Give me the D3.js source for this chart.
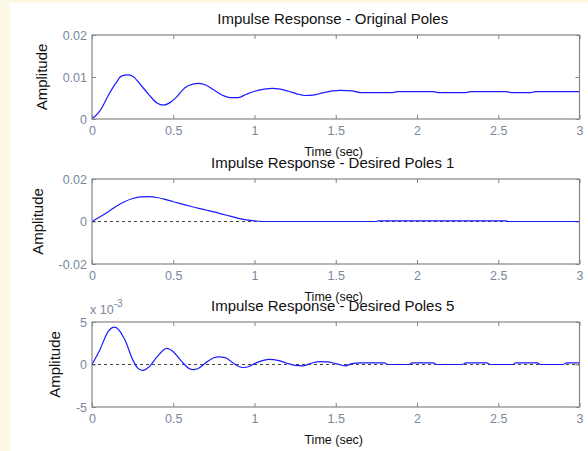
<!DOCTYPE html>
<html>
<head>
<meta charset="utf-8">
<script src="https://cdn.jsdelivr.net/npm/d3@7"></script>
<style>
  body { margin: 0; background: #fdf8e6; }
  text { font-family: "Liberation Sans", Arial, sans-serif; }
</style>
</head>
<body>
<div id="chart"></div>
<script>
// time samples and amplitudes
const timeOriginal = [0, 0.05, 0.1, 0.15, 0.18, 0.22, 0.25, 0.3, 0.35, 0.4, 0.44, 0.48, 0.52, 0.57, 0.62, 0.66, 0.7, 0.75, 0.8, 0.85, 0.9, 0.95, 1.0, 1.06, 1.11, 1.16, 1.21, 1.26, 1.31, 1.36, 1.42, 1.48, 1.53, 1.6, 1.65, 1.85, 1.88, 2.1, 2.13, 2.3, 2.33, 2.55, 2.58, 2.7, 2.73, 3];
const ampOriginal = [0, 0.0020, 0.0056, 0.0087, 0.0102, 0.0105, 0.0102, 0.0081, 0.0058, 0.0038, 0.0033, 0.0039, 0.0052, 0.0074, 0.0083, 0.0085, 0.0081, 0.0069, 0.0057, 0.0051, 0.0051, 0.0059, 0.0066, 0.0071, 0.0073, 0.0071, 0.0066, 0.0060, 0.0056, 0.0057, 0.0062, 0.0067, 0.0068, 0.0067, 0.0063, 0.0063, 0.0065, 0.0065, 0.0063, 0.0063, 0.0065, 0.0065, 0.0063, 0.0063, 0.0065, 0.0065];

const timeDesired1 = [0, 0.05, 0.1, 0.15, 0.2, 0.25, 0.3, 0.35, 0.4, 0.45, 0.5, 0.55, 0.6, 0.65, 0.7, 0.75, 0.8, 0.85, 0.9, 0.95, 1.0, 1.05, 1.75, 1.76, 2.55, 2.56, 3];
const ampDesired1 = [0, 0.0022, 0.0046, 0.0072, 0.0093, 0.0108, 0.0116, 0.0117, 0.0113, 0.0104, 0.0093, 0.0083, 0.0073, 0.0063, 0.0054, 0.0045, 0.0035, 0.0025, 0.0015, 0.0008, 0.0003, 0, 0, 0.0003, 0.0003, 0, 0];

const timeDesired5 = [0, 0.05, 0.1, 0.14, 0.2, 0.25, 0.28, 0.31, 0.35, 0.4, 0.46, 0.5, 0.55, 0.6, 0.62, 0.65, 0.7, 0.75, 0.78, 0.82, 0.86, 0.9, 0.93, 0.97, 1.0, 1.05, 1.09, 1.15, 1.2, 1.25, 1.3, 1.35, 1.4, 1.45, 1.5, 1.56, 1.6, 1.65, 1.8, 1.82, 1.95, 1.97, 2.1, 2.12, 2.28, 2.3, 2.43, 2.45, 2.59, 2.61, 2.74, 2.76, 2.9, 2.92, 3];
const ampDesired5 = [0, 0.0018, 0.0039, 0.0044, 0.0030, 0.0006, -0.0004, -0.0007, -0.0003, 0.0009, 0.0019, 0.0015, 0.0004, -0.0005, -0.0006, -0.0005, 0.0002, 0.0008, 0.0009, 0.0008, 0.0003, -0.0002, -0.00035, -0.0002, 0.0001, 0.00045, 0.0006, 0.00045, 0.00015, -0.0001, -0.00015, 0.00015, 0.00035, 0.0003, 0.0001, -0.00015, 0.0001, 0.0002, 0.0002, 0, 0, 0.0002, 0.0002, 0, 0, 0.0002, 0.0002, 0, 0, 0.0002, 0.0002, 0, 0, 0.0002, 0.0002];

const titles = ["Impulse Response - Original Poles", "Impulse Response - Desired Poles 1", "Impulse Response - Desired Poles 5"];
const xTicks = [0, 0.5, 1, 1.5, 2, 2.5, 3];
const xTickLabels = ["0", "0.5", "1", "1.5", "2", "2.5", "3"];
const yTicks1 = [0, 0.01, 0.02];
const yTickLabels1 = ["0", "0.01", "0.02"];
const yTicks2 = [-0.02, 0, 0.02];
const yTickLabels2 = ["-0.02", "0", "0.02"];
const yTicks3 = [-0.005, 0, 0.005];
const yTickLabels3 = ["-5", "0", "5"];

const W = 588, H = 451;
const svg = d3.select("#chart").append("svg")
    .attr("width", W).attr("height", H);

svg.append("rect").attr("width", W).attr("height", H).attr("fill", "#fdf8e6");
svg.append("rect").attr("x", 10).attr("y", 3).attr("width", W - 10).attr("height", H - 3).attr("fill", "#ffffff");

const panels = [
  {top: 35, bottom: 119, t: timeOriginal, v: ampOriginal, yTicks: yTicks1, yLabels: yTickLabels1, zeroLine: false, exp: false},
  {top: 179, bottom: 264, t: timeDesired1, v: ampDesired1, yTicks: yTicks2, yLabels: yTickLabels2, zeroLine: true, exp: false},
  {top: 322, bottom: 407, t: timeDesired5, v: ampDesired5, yTicks: yTicks3, yLabels: yTickLabels3, zeroLine: true, exp: true}
];

const left = 92, right = 579.5;
const axisColor = "#858585", labelColor = "#7a879c";

const x = d3.scaleLinear().domain([0, 3]).range([left, right]);

panels.forEach((p, i) => {
  const y = d3.scaleLinear().domain(d3.extent(p.yTicks)).range([p.bottom, p.top]);
  const g = svg.append("g");

  g.append("rect")
    .attr("x", left).attr("y", p.top)
    .attr("width", right - left).attr("height", p.bottom - p.top)
    .attr("fill", "#fff");

  const fmtX = (d, k) => xTickLabels[k];
  const fmtY = (d, k) => p.yLabels[k];

  const xb = g.append("g").attr("transform", `translate(0,${p.bottom})`)
    .call(d3.axisBottom(x).tickValues(xTicks).tickFormat(fmtX).tickSize(-4).tickPadding(7));
  const xt = g.append("g").attr("transform", `translate(0,${p.top})`)
    .call(d3.axisTop(x).tickValues(xTicks).tickFormat("").tickSize(-4));
  const yl = g.append("g").attr("transform", `translate(${left},0)`)
    .call(d3.axisLeft(y).tickValues(p.yTicks).tickFormat(fmtY).tickSize(-4).tickPadding(5));
  const yr = g.append("g").attr("transform", `translate(${right},0)`)
    .call(d3.axisRight(y).tickValues(p.yTicks).tickFormat("").tickSize(-4));

  [xb, xt, yl, yr].forEach(a => {
    a.select(".domain").remove();
    a.selectAll("line").attr("stroke", axisColor);
    a.selectAll("text").attr("fill", labelColor).style("font-size", "12.5px");
  });

  if (p.zeroLine) {
    g.append("line")
      .attr("x1", left).attr("x2", right)
      .attr("y1", y(0)).attr("y2", y(0))
      .attr("stroke", "#444").attr("stroke-width", 1)
      .attr("stroke-dasharray", "3,3");
  }

  const pts = p.t.map((t, k) => ({t: t, v: p.v[k]}));
  g.append("path")
    .datum(pts)
    .attr("fill", "none")
    .attr("stroke", "#1a1aff")
    .attr("stroke-width", 1.2)
    .attr("d", d3.line()
      .curve(d3.curveMonotoneX)
      .x(d => x(d.t))
      .y(d => y(d.v)));

  g.append("rect")
    .attr("x", left).attr("y", p.top)
    .attr("width", right - left).attr("height", p.bottom - p.top)
    .attr("fill", "none").attr("stroke", axisColor).attr("stroke-width", 1.2);

  // ylabel sits left of the widest tick label
  let minLeft = left;
  yl.selectAll("text").each(function() {
    const b = this.getBBox();
    const tr = this.parentNode.getAttribute("transform");
    minLeft = Math.min(minLeft, left + b.x);
  });
  const ylx = minLeft - 21;
  g.append("text")
    .attr("transform", `translate(${ylx},${(p.top + p.bottom) / 2}) rotate(-90)`)
    .attr("text-anchor", "middle")
    .attr("dy", "0.35em")
    .style("font-size", "15px")
    .attr("fill", "#111")
    .text("Amplitude");

  g.append("text")
    .attr("x", (left + right) / 2 - 2)
    .attr("y", p.bottom + 37)
    .attr("text-anchor", "middle")
    .style("font-size", "12.5px")
    .attr("fill", "#111")
    .text("Time (sec)");

  g.append("text")
    .attr("x", (left + right) / 2 - 3)
    .attr("y", p.top - 11)
    .attr("text-anchor", "middle")
    .style("font-size", "15px")
    .attr("fill", "#111")
    .text(titles[i]);

  if (p.exp) {
    const e = g.append("text")
      .attr("x", left - 2)
      .attr("y", p.top - 8)
      .style("font-size", "12.5px")
      .attr("fill", labelColor);
    e.append("tspan").text("x 10");
    e.append("tspan").attr("dy", -7).style("font-size", "10px").text("-3");
  }
});
</script>
</body>
</html>
